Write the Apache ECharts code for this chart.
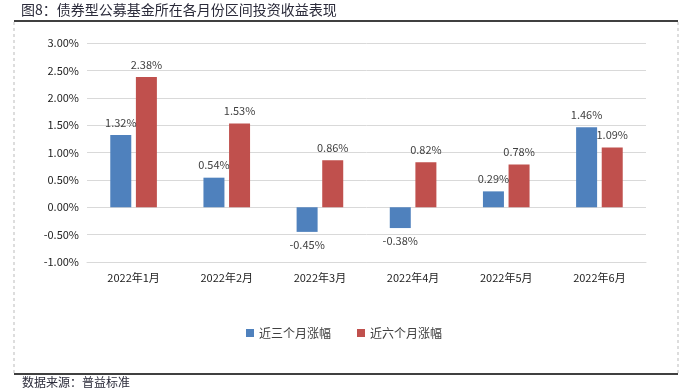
<!DOCTYPE html>
<html>
<head>
<meta charset="utf-8">
<script src="https://cdn.jsdelivr.net/npm/echarts@6/dist/echarts.min.js"></script>
<style>html,body{margin:0;padding:0;background:#fff;}#c{width:688px;height:392px;}</style>
</head>
<body>
<div id="c"></div>
<script>
var categories = ['2022年1月','2022年2月','2022年3月','2022年4月','2022年5月','2022年6月'];
var threeMonth = [1.32, 0.54, -0.45, -0.38, 0.29, 1.46];
var sixMonth = [2.38, 1.53, 0.86, 0.82, 0.78, 1.09];
var seriesNames = ['近三个月涨幅', '近六个月涨幅'];
var yTicks = {min: -1, max: 3, interval: 0.5};
var titleText = '图8：债券型公募基金所在各月份区间投资收益表现';
var sourceText = '数据来源：普益标准';

var font = '"Noto Sans CJK SC", "Noto Sans", sans-serif';
var chart = echarts.init(document.getElementById('c'), null, {renderer: 'canvas'});
function pct(v) { return v.toFixed(2) + '%'; }
function labelCfg() {
  return {
    show: true,
    position: 'top',
    distance: 7,
    color: '#404040',
    fontSize: 11,
    fontFamily: font,
    formatter: function (p) { return pct(p.value); }
  };
}
function mkData(arr) {
  return arr.map(function (v) {
    return v < 0 ? {value: v, label: {position: 'bottom'}} : v;
  });
}
chart.setOption({
  animation: false,
  backgroundColor: '#fff',
  textStyle: {fontFamily: font},
  grid: {left: 87, right: 42, top: 43, bottom: 130, containLabel: false},
  legend: {
    data: seriesNames,
    bottom: 48,
    left: 'center',
    icon: 'rect',
    itemWidth: 8,
    itemHeight: 8,
    itemGap: 26,
    textStyle: {fontSize: 12, color: '#404040', fontFamily: font}
  },
  xAxis: {
    type: 'category',
    data: categories,
    axisLine: {onZero: false, lineStyle: {color: '#d9d9d9'}},
    axisTick: {show: false},
    axisLabel: {color: '#222', fontSize: 11, margin: 10, fontFamily: font}
  },
  yAxis: {
    type: 'value',
    min: yTicks.min,
    max: yTicks.max,
    interval: yTicks.interval,
    axisLine: {show: false},
    axisTick: {show: false},
    splitLine: {lineStyle: {color: '#d9d9d9'}},
    axisLabel: {color: '#222', fontSize: 11, margin: 8, fontFamily: font, formatter: function (v) { return pct(v); }}
  },
  series: [
    {name: seriesNames[0], type: 'bar', data: mkData(threeMonth), barWidth: 21, barGap: '22%', itemStyle: {color: '#4F81BD'}, label: labelCfg()},
    {name: seriesNames[1], type: 'bar', data: mkData(sixMonth), barWidth: 21, itemStyle: {color: '#C0504D'}, label: labelCfg()}
  ],
  graphic: [
    {type: 'text', left: 21, top: 3, style: {text: titleText, fontSize: 14, fill: '#2b2b3a', fontFamily: font}},
    {type: 'line', shape: {x1: 14, y1: 21, x2: 678, y2: 21}, style: {stroke: '#000', lineWidth: 1.5}},
    {type: 'line', shape: {x1: 14, y1: 22, x2: 14, y2: 373}, style: {stroke: '#bbb', lineWidth: 1, lineDash: [3, 3]}},
    {type: 'line', shape: {x1: 678, y1: 22, x2: 678, y2: 373}, style: {stroke: '#bbb', lineWidth: 1, lineDash: [3, 3]}},
    {type: 'line', shape: {x1: 14, y1: 374, x2: 678, y2: 374}, style: {stroke: '#000', lineWidth: 1.5}},
    {type: 'text', left: 22, top: 376, style: {text: sourceText, fontSize: 12, fill: '#2b2b3a', fontFamily: font}}
  ]
});
</script>
</body>
</html>
